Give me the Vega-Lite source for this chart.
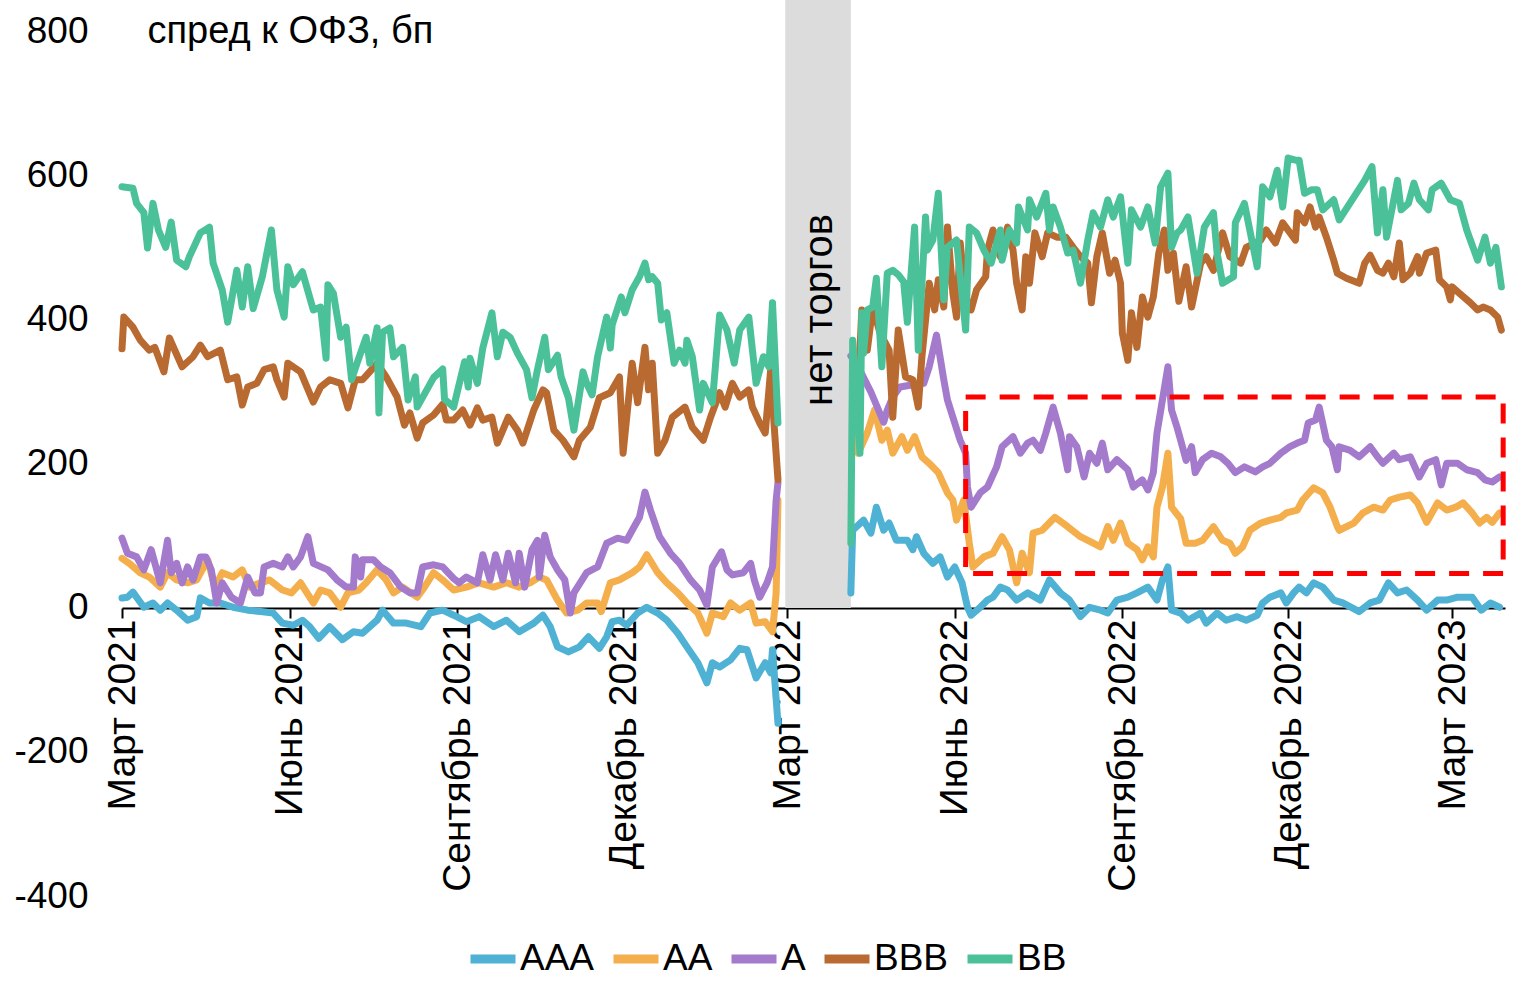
{
"$schema": "https://vega.github.io/schema/vega-lite/v6.json",
"width": 1383, "height": 896,
"autosize": {"type": "none"},
"padding": {"left": 122, "top": 0, "right": 20, "bottom": 100},
"background": "white",
"config": {"view": {"stroke": null}, "font": "Liberation Sans", "axis": {"grid": false}},
"datasets": {
"pre": [
{"s":"AAA","d":"2021-03-01","v":14},{"s":"AAA","d":"2021-03-04","v":15},{"s":"AAA","d":"2021-03-07","v":22},{"s":"AAA","d":"2021-03-13","v":1},{"s":"AAA","d":"2021-03-18","v":7},{"s":"AAA","d":"2021-03-22","v":-3},{"s":"AAA","d":"2021-03-26","v":7},{"s":"AAA","d":"2021-03-31","v":-3},{"s":"AAA","d":"2021-04-06","v":-17},{"s":"AAA","d":"2021-04-11","v":-12},{"s":"AAA","d":"2021-04-13","v":14},{"s":"AAA","d":"2021-04-18","v":7},{"s":"AAA","d":"2021-04-24","v":7},{"s":"AAA","d":"2021-05-01","v":1},{"s":"AAA","d":"2021-05-09","v":-3},{"s":"AAA","d":"2021-05-16","v":-5},{"s":"AAA","d":"2021-05-23","v":-7},{"s":"AAA","d":"2021-05-28","v":-21},{"s":"AAA","d":"2021-06-03","v":-24},{"s":"AAA","d":"2021-06-08","v":-17},{"s":"AAA","d":"2021-06-12","v":-26},{"s":"AAA","d":"2021-06-17","v":-42},{"s":"AAA","d":"2021-06-23","v":-26},{"s":"AAA","d":"2021-06-30","v":-44},{"s":"AAA","d":"2021-07-06","v":-33},{"s":"AAA","d":"2021-07-11","v":-35},{"s":"AAA","d":"2021-07-19","v":-17},{"s":"AAA","d":"2021-07-22","v":-3},{"s":"AAA","d":"2021-07-28","v":-21},{"s":"AAA","d":"2021-08-04","v":-21},{"s":"AAA","d":"2021-08-12","v":-26},{"s":"AAA","d":"2021-08-17","v":-7},{"s":"AAA","d":"2021-08-24","v":-3},{"s":"AAA","d":"2021-08-30","v":-10},{"s":"AAA","d":"2021-09-06","v":-19},{"s":"AAA","d":"2021-09-13","v":-12},{"s":"AAA","d":"2021-09-21","v":-26},{"s":"AAA","d":"2021-09-28","v":-17},{"s":"AAA","d":"2021-10-05","v":-33},{"s":"AAA","d":"2021-10-13","v":-21},{"s":"AAA","d":"2021-10-18","v":-10},{"s":"AAA","d":"2021-10-22","v":-26},{"s":"AAA","d":"2021-10-26","v":-54},{"s":"AAA","d":"2021-11-01","v":-61},{"s":"AAA","d":"2021-11-07","v":-54},{"s":"AAA","d":"2021-11-12","v":-40},{"s":"AAA","d":"2021-11-18","v":-56},{"s":"AAA","d":"2021-11-22","v":-40},{"s":"AAA","d":"2021-11-25","v":-19},{"s":"AAA","d":"2021-11-29","v":-17},{"s":"AAA","d":"2021-12-03","v":-24},{"s":"AAA","d":"2021-12-09","v":-7},{"s":"AAA","d":"2021-12-14","v":1},{"s":"AAA","d":"2021-12-20","v":-7},{"s":"AAA","d":"2021-12-25","v":-17},{"s":"AAA","d":"2021-12-31","v":-35},{"s":"AAA","d":"2022-01-05","v":-54},{"s":"AAA","d":"2022-01-11","v":-76},{"s":"AAA","d":"2022-01-16","v":-104},{"s":"AAA","d":"2022-01-19","v":-76},{"s":"AAA","d":"2022-01-23","v":-82},{"s":"AAA","d":"2022-01-29","v":-72},{"s":"AAA","d":"2022-02-03","v":-56},{"s":"AAA","d":"2022-02-07","v":-58},{"s":"AAA","d":"2022-02-12","v":-97},{"s":"AAA","d":"2022-02-17","v":-76},{"s":"AAA","d":"2022-02-20","v":-90},{"s":"AAA","d":"2022-02-21","v":-58},{"s":"AAA","d":"2022-02-24","v":-160},
{"s":"AA","d":"2021-03-01","v":69},{"s":"AA","d":"2021-03-05","v":62},{"s":"AA","d":"2021-03-11","v":49},{"s":"AA","d":"2021-03-16","v":43},{"s":"AA","d":"2021-03-22","v":29},{"s":"AA","d":"2021-03-26","v":49},{"s":"AA","d":"2021-03-31","v":39},{"s":"AA","d":"2021-04-06","v":35},{"s":"AA","d":"2021-04-11","v":39},{"s":"AA","d":"2021-04-17","v":67},{"s":"AA","d":"2021-04-21","v":29},{"s":"AA","d":"2021-04-25","v":49},{"s":"AA","d":"2021-05-01","v":43},{"s":"AA","d":"2021-05-06","v":53},{"s":"AA","d":"2021-05-10","v":29},{"s":"AA","d":"2021-05-16","v":35},{"s":"AA","d":"2021-05-21","v":39},{"s":"AA","d":"2021-05-28","v":25},{"s":"AA","d":"2021-06-02","v":21},{"s":"AA","d":"2021-06-07","v":35},{"s":"AA","d":"2021-06-14","v":7},{"s":"AA","d":"2021-06-18","v":25},{"s":"AA","d":"2021-06-23","v":21},{"s":"AA","d":"2021-06-29","v":1},{"s":"AA","d":"2021-07-03","v":21},{"s":"AA","d":"2021-07-09","v":25},{"s":"AA","d":"2021-07-13","v":35},{"s":"AA","d":"2021-07-19","v":53},{"s":"AA","d":"2021-07-24","v":39},{"s":"AA","d":"2021-07-28","v":21},{"s":"AA","d":"2021-08-02","v":29},{"s":"AA","d":"2021-08-10","v":15},{"s":"AA","d":"2021-08-14","v":29},{"s":"AA","d":"2021-08-19","v":49},{"s":"AA","d":"2021-08-24","v":39},{"s":"AA","d":"2021-08-30","v":25},{"s":"AA","d":"2021-09-06","v":29},{"s":"AA","d":"2021-09-13","v":35},{"s":"AA","d":"2021-09-21","v":29},{"s":"AA","d":"2021-09-28","v":35},{"s":"AA","d":"2021-10-05","v":29},{"s":"AA","d":"2021-10-11","v":35},{"s":"AA","d":"2021-10-16","v":43},{"s":"AA","d":"2021-10-20","v":39},{"s":"AA","d":"2021-10-26","v":11},{"s":"AA","d":"2021-10-31","v":-7},{"s":"AA","d":"2021-11-06","v":-3},{"s":"AA","d":"2021-11-11","v":7},{"s":"AA","d":"2021-11-17","v":7},{"s":"AA","d":"2021-11-19","v":-5},{"s":"AA","d":"2021-11-24","v":35},{"s":"AA","d":"2021-11-29","v":39},{"s":"AA","d":"2021-12-06","v":49},{"s":"AA","d":"2021-12-10","v":57},{"s":"AA","d":"2021-12-14","v":74},{"s":"AA","d":"2021-12-20","v":49},{"s":"AA","d":"2021-12-25","v":35},{"s":"AA","d":"2021-12-31","v":21},{"s":"AA","d":"2022-01-05","v":7},{"s":"AA","d":"2022-01-11","v":-7},{"s":"AA","d":"2022-01-16","v":-35},{"s":"AA","d":"2022-01-19","v":-7},{"s":"AA","d":"2022-01-25","v":-12},{"s":"AA","d":"2022-01-29","v":7},{"s":"AA","d":"2022-02-03","v":-3},{"s":"AA","d":"2022-02-09","v":7},{"s":"AA","d":"2022-02-12","v":-21},{"s":"AA","d":"2022-02-17","v":-19},{"s":"AA","d":"2022-02-21","v":-33},{"s":"AA","d":"2022-02-23","v":21},{"s":"AA","d":"2022-02-24","v":150},
{"s":"A","d":"2021-03-01","v":97},{"s":"A","d":"2021-03-04","v":76},{"s":"A","d":"2021-03-09","v":71},{"s":"A","d":"2021-03-13","v":53},{"s":"A","d":"2021-03-17","v":81},{"s":"A","d":"2021-03-22","v":35},{"s":"A","d":"2021-03-26","v":94},{"s":"A","d":"2021-03-28","v":49},{"s":"A","d":"2021-03-31","v":62},{"s":"A","d":"2021-04-03","v":35},{"s":"A","d":"2021-04-06","v":57},{"s":"A","d":"2021-04-09","v":39},{"s":"A","d":"2021-04-13","v":71},{"s":"A","d":"2021-04-16","v":71},{"s":"A","d":"2021-04-19","v":53},{"s":"A","d":"2021-04-22","v":7},{"s":"A","d":"2021-04-25","v":35},{"s":"A","d":"2021-04-30","v":15},{"s":"A","d":"2021-05-05","v":7},{"s":"A","d":"2021-05-09","v":43},{"s":"A","d":"2021-05-13","v":21},{"s":"A","d":"2021-05-16","v":21},{"s":"A","d":"2021-05-18","v":57},{"s":"A","d":"2021-05-23","v":62},{"s":"A","d":"2021-05-28","v":57},{"s":"A","d":"2021-05-31","v":71},{"s":"A","d":"2021-06-03","v":57},{"s":"A","d":"2021-06-07","v":71},{"s":"A","d":"2021-06-11","v":99},{"s":"A","d":"2021-06-14","v":62},{"s":"A","d":"2021-06-22","v":53},{"s":"A","d":"2021-06-27","v":39},{"s":"A","d":"2021-07-02","v":29},{"s":"A","d":"2021-07-06","v":29},{"s":"A","d":"2021-07-07","v":71},{"s":"A","d":"2021-07-10","v":43},{"s":"A","d":"2021-07-11","v":67},{"s":"A","d":"2021-07-17","v":67},{"s":"A","d":"2021-07-21","v":57},{"s":"A","d":"2021-07-26","v":49},{"s":"A","d":"2021-08-01","v":29},{"s":"A","d":"2021-08-06","v":21},{"s":"A","d":"2021-08-10","v":21},{"s":"A","d":"2021-08-13","v":57},{"s":"A","d":"2021-08-19","v":60},{"s":"A","d":"2021-08-24","v":57},{"s":"A","d":"2021-08-30","v":41},{"s":"A","d":"2021-09-02","v":35},{"s":"A","d":"2021-09-06","v":43},{"s":"A","d":"2021-09-12","v":35},{"s":"A","d":"2021-09-15","v":74},{"s":"A","d":"2021-09-19","v":39},{"s":"A","d":"2021-09-22","v":74},{"s":"A","d":"2021-09-26","v":39},{"s":"A","d":"2021-09-29","v":76},{"s":"A","d":"2021-10-03","v":35},{"s":"A","d":"2021-10-05","v":76},{"s":"A","d":"2021-10-08","v":29},{"s":"A","d":"2021-10-12","v":81},{"s":"A","d":"2021-10-15","v":94},{"s":"A","d":"2021-10-16","v":43},{"s":"A","d":"2021-10-19","v":101},{"s":"A","d":"2021-10-22","v":71},{"s":"A","d":"2021-10-26","v":53},{"s":"A","d":"2021-10-30","v":39},{"s":"A","d":"2021-11-02","v":-7},{"s":"A","d":"2021-11-04","v":21},{"s":"A","d":"2021-11-11","v":49},{"s":"A","d":"2021-11-17","v":57},{"s":"A","d":"2021-11-22","v":90},{"s":"A","d":"2021-11-28","v":97},{"s":"A","d":"2021-12-03","v":94},{"s":"A","d":"2021-12-06","v":108},{"s":"A","d":"2021-12-10","v":126},{"s":"A","d":"2021-12-13","v":161},{"s":"A","d":"2021-12-16","v":136},{"s":"A","d":"2021-12-21","v":99},{"s":"A","d":"2021-12-27","v":76},{"s":"A","d":"2022-01-01","v":62},{"s":"A","d":"2022-01-07","v":39},{"s":"A","d":"2022-01-12","v":25},{"s":"A","d":"2022-01-16","v":4},{"s":"A","d":"2022-01-19","v":57},{"s":"A","d":"2022-01-24","v":78},{"s":"A","d":"2022-01-27","v":53},{"s":"A","d":"2022-01-30","v":46},{"s":"A","d":"2022-02-05","v":49},{"s":"A","d":"2022-02-09","v":62},{"s":"A","d":"2022-02-11","v":39},{"s":"A","d":"2022-02-14","v":15},{"s":"A","d":"2022-02-18","v":35},{"s":"A","d":"2022-02-21","v":57},{"s":"A","d":"2022-02-23","v":150},{"s":"A","d":"2022-02-24","v":174},
{"s":"BBB","d":"2021-03-01","v":360},{"s":"BBB","d":"2021-03-02","v":404},{"s":"BBB","d":"2021-03-07","v":390},{"s":"BBB","d":"2021-03-11","v":372},{"s":"BBB","d":"2021-03-16","v":358},{"s":"BBB","d":"2021-03-19","v":362},{"s":"BBB","d":"2021-03-24","v":328},{"s":"BBB","d":"2021-03-27","v":375},{"s":"BBB","d":"2021-04-03","v":335},{"s":"BBB","d":"2021-04-09","v":349},{"s":"BBB","d":"2021-04-13","v":365},{"s":"BBB","d":"2021-04-17","v":349},{"s":"BBB","d":"2021-04-24","v":358},{"s":"BBB","d":"2021-04-28","v":317},{"s":"BBB","d":"2021-05-03","v":321},{"s":"BBB","d":"2021-05-06","v":282},{"s":"BBB","d":"2021-05-09","v":307},{"s":"BBB","d":"2021-05-14","v":312},{"s":"BBB","d":"2021-05-18","v":331},{"s":"BBB","d":"2021-05-23","v":335},{"s":"BBB","d":"2021-05-25","v":317},{"s":"BBB","d":"2021-05-29","v":293},{"s":"BBB","d":"2021-05-31","v":340},{"s":"BBB","d":"2021-06-07","v":328},{"s":"BBB","d":"2021-06-14","v":286},{"s":"BBB","d":"2021-06-18","v":307},{"s":"BBB","d":"2021-06-23","v":317},{"s":"BBB","d":"2021-06-29","v":312},{"s":"BBB","d":"2021-07-03","v":278},{"s":"BBB","d":"2021-07-07","v":317},{"s":"BBB","d":"2021-07-11","v":317},{"s":"BBB","d":"2021-07-16","v":331},{"s":"BBB","d":"2021-07-19","v":340},{"s":"BBB","d":"2021-07-24","v":321},{"s":"BBB","d":"2021-07-30","v":293},{"s":"BBB","d":"2021-08-03","v":254},{"s":"BBB","d":"2021-08-06","v":271},{"s":"BBB","d":"2021-08-10","v":236},{"s":"BBB","d":"2021-08-13","v":257},{"s":"BBB","d":"2021-08-19","v":268},{"s":"BBB","d":"2021-08-24","v":283},{"s":"BBB","d":"2021-08-26","v":261},{"s":"BBB","d":"2021-08-30","v":261},{"s":"BBB","d":"2021-09-04","v":275},{"s":"BBB","d":"2021-09-08","v":254},{"s":"BBB","d":"2021-09-12","v":278},{"s":"BBB","d":"2021-09-15","v":261},{"s":"BBB","d":"2021-09-20","v":265},{"s":"BBB","d":"2021-09-23","v":229},{"s":"BBB","d":"2021-09-29","v":265},{"s":"BBB","d":"2021-10-04","v":247},{"s":"BBB","d":"2021-10-07","v":229},{"s":"BBB","d":"2021-10-13","v":275},{"s":"BBB","d":"2021-10-18","v":303},{"s":"BBB","d":"2021-10-20","v":299},{"s":"BBB","d":"2021-10-24","v":247},{"s":"BBB","d":"2021-10-29","v":233},{"s":"BBB","d":"2021-11-04","v":210},{"s":"BBB","d":"2021-11-07","v":233},{"s":"BBB","d":"2021-11-13","v":251},{"s":"BBB","d":"2021-11-18","v":292},{"s":"BBB","d":"2021-11-24","v":299},{"s":"BBB","d":"2021-11-29","v":321},{"s":"BBB","d":"2021-12-01","v":215},{"s":"BBB","d":"2021-12-06","v":340},{"s":"BBB","d":"2021-12-09","v":285},{"s":"BBB","d":"2021-12-13","v":362},{"s":"BBB","d":"2021-12-15","v":303},{"s":"BBB","d":"2021-12-17","v":340},{"s":"BBB","d":"2021-12-20","v":215},{"s":"BBB","d":"2021-12-24","v":233},{"s":"BBB","d":"2021-12-28","v":265},{"s":"BBB","d":"2022-01-04","v":279},{"s":"BBB","d":"2022-01-08","v":251},{"s":"BBB","d":"2022-01-14","v":233},{"s":"BBB","d":"2022-01-18","v":265},{"s":"BBB","d":"2022-01-23","v":299},{"s":"BBB","d":"2022-01-26","v":279},{"s":"BBB","d":"2022-01-30","v":312},{"s":"BBB","d":"2022-02-03","v":293},{"s":"BBB","d":"2022-02-08","v":303},{"s":"BBB","d":"2022-02-10","v":279},{"s":"BBB","d":"2022-02-14","v":257},{"s":"BBB","d":"2022-02-17","v":243},{"s":"BBB","d":"2022-02-20","v":331},{"s":"BBB","d":"2022-02-22","v":250},{"s":"BBB","d":"2022-02-24","v":178},
{"s":"BB","d":"2021-03-01","v":585},{"s":"BB","d":"2021-03-07","v":583},{"s":"BB","d":"2021-03-09","v":562},{"s":"BB","d":"2021-03-13","v":549},{"s":"BB","d":"2021-03-15","v":500},{"s":"BB","d":"2021-03-18","v":562},{"s":"BB","d":"2021-03-21","v":525},{"s":"BB","d":"2021-03-25","v":501},{"s":"BB","d":"2021-03-28","v":536},{"s":"BB","d":"2021-03-31","v":483},{"s":"BB","d":"2021-04-05","v":474},{"s":"BB","d":"2021-04-07","v":488},{"s":"BB","d":"2021-04-13","v":521},{"s":"BB","d":"2021-04-18","v":529},{"s":"BB","d":"2021-04-20","v":479},{"s":"BB","d":"2021-04-25","v":442},{"s":"BB","d":"2021-04-28","v":397},{"s":"BB","d":"2021-05-03","v":469},{"s":"BB","d":"2021-05-06","v":418},{"s":"BB","d":"2021-05-09","v":474},{"s":"BB","d":"2021-05-12","v":416},{"s":"BB","d":"2021-05-17","v":460},{"s":"BB","d":"2021-05-22","v":525},{"s":"BB","d":"2021-05-25","v":442},{"s":"BB","d":"2021-05-29","v":404},{"s":"BB","d":"2021-05-31","v":474},{"s":"BB","d":"2021-06-03","v":449},{"s":"BB","d":"2021-06-08","v":467},{"s":"BB","d":"2021-06-14","v":414},{"s":"BB","d":"2021-06-18","v":418},{"s":"BB","d":"2021-06-21","v":347},{"s":"BB","d":"2021-06-22","v":449},{"s":"BB","d":"2021-06-25","v":437},{"s":"BB","d":"2021-06-29","v":376},{"s":"BB","d":"2021-07-02","v":390},{"s":"BB","d":"2021-07-05","v":317},{"s":"BB","d":"2021-07-08","v":340},{"s":"BB","d":"2021-07-13","v":376},{"s":"BB","d":"2021-07-15","v":340},{"s":"BB","d":"2021-07-19","v":389},{"s":"BB","d":"2021-07-20","v":271},{"s":"BB","d":"2021-07-22","v":383},{"s":"BB","d":"2021-07-26","v":389},{"s":"BB","d":"2021-07-28","v":349},{"s":"BB","d":"2021-08-02","v":362},{"s":"BB","d":"2021-08-05","v":289},{"s":"BB","d":"2021-08-09","v":321},{"s":"BB","d":"2021-08-10","v":279},{"s":"BB","d":"2021-08-19","v":320},{"s":"BB","d":"2021-08-24","v":332},{"s":"BB","d":"2021-08-25","v":290},{"s":"BB","d":"2021-08-30","v":279},{"s":"BB","d":"2021-09-05","v":342},{"s":"BB","d":"2021-09-07","v":307},{"s":"BB","d":"2021-09-08","v":347},{"s":"BB","d":"2021-09-12","v":312},{"s":"BB","d":"2021-09-15","v":361},{"s":"BB","d":"2021-09-20","v":410},{"s":"BB","d":"2021-09-23","v":349},{"s":"BB","d":"2021-09-26","v":383},{"s":"BB","d":"2021-09-30","v":376},{"s":"BB","d":"2021-10-04","v":354},{"s":"BB","d":"2021-10-09","v":331},{"s":"BB","d":"2021-10-12","v":292},{"s":"BB","d":"2021-10-15","v":331},{"s":"BB","d":"2021-10-19","v":376},{"s":"BB","d":"2021-10-21","v":331},{"s":"BB","d":"2021-10-26","v":351},{"s":"BB","d":"2021-10-28","v":321},{"s":"BB","d":"2021-11-01","v":292},{"s":"BB","d":"2021-11-04","v":247},{"s":"BB","d":"2021-11-09","v":328},{"s":"BB","d":"2021-11-11","v":312},{"s":"BB","d":"2021-11-14","v":296},{"s":"BB","d":"2021-11-17","v":349},{"s":"BB","d":"2021-11-22","v":404},{"s":"BB","d":"2021-11-24","v":361},{"s":"BB","d":"2021-11-25","v":393},{"s":"BB","d":"2021-11-30","v":432},{"s":"BB","d":"2021-12-02","v":410},{"s":"BB","d":"2021-12-06","v":442},{"s":"BB","d":"2021-12-10","v":460},{"s":"BB","d":"2021-12-13","v":479},{"s":"BB","d":"2021-12-15","v":456},{"s":"BB","d":"2021-12-17","v":460},{"s":"BB","d":"2021-12-20","v":451},{"s":"BB","d":"2021-12-22","v":400},{"s":"BB","d":"2021-12-25","v":410},{"s":"BB","d":"2021-12-29","v":340},{"s":"BB","d":"2022-01-01","v":358},{"s":"BB","d":"2022-01-04","v":340},{"s":"BB","d":"2022-01-05","v":372},{"s":"BB","d":"2022-01-08","v":349},{"s":"BB","d":"2022-01-12","v":275},{"s":"BB","d":"2022-01-14","v":312},{"s":"BB","d":"2022-01-19","v":285},{"s":"BB","d":"2022-01-23","v":407},{"s":"BB","d":"2022-01-27","v":386},{"s":"BB","d":"2022-01-31","v":340},{"s":"BB","d":"2022-02-03","v":386},{"s":"BB","d":"2022-02-08","v":404},{"s":"BB","d":"2022-02-12","v":312},{"s":"BB","d":"2022-02-16","v":349},{"s":"BB","d":"2022-02-19","v":335},{"s":"BB","d":"2022-02-21","v":424},{"s":"BB","d":"2022-02-24","v":257}
],
"post": [
{"s":"AAA","d":"2022-04-05","v":21},{"s":"AAA","d":"2022-04-06","v":108},{"s":"AAA","d":"2022-04-12","v":122},{"s":"AAA","d":"2022-04-16","v":104},{"s":"AAA","d":"2022-04-19","v":140},{"s":"AAA","d":"2022-04-23","v":108},{"s":"AAA","d":"2022-04-26","v":118},{"s":"AAA","d":"2022-04-30","v":94},{"s":"AAA","d":"2022-05-06","v":94},{"s":"AAA","d":"2022-05-09","v":81},{"s":"AAA","d":"2022-05-11","v":99},{"s":"AAA","d":"2022-05-15","v":76},{"s":"AAA","d":"2022-05-20","v":62},{"s":"AAA","d":"2022-05-24","v":71},{"s":"AAA","d":"2022-05-28","v":43},{"s":"AAA","d":"2022-06-01","v":57},{"s":"AAA","d":"2022-06-05","v":35},{"s":"AAA","d":"2022-06-08","v":1},{"s":"AAA","d":"2022-06-10","v":-10},{"s":"AAA","d":"2022-06-15","v":1},{"s":"AAA","d":"2022-06-19","v":11},{"s":"AAA","d":"2022-06-22","v":15},{"s":"AAA","d":"2022-06-26","v":29},{"s":"AAA","d":"2022-06-30","v":25},{"s":"AAA","d":"2022-07-05","v":11},{"s":"AAA","d":"2022-07-11","v":21},{"s":"AAA","d":"2022-07-18","v":11},{"s":"AAA","d":"2022-07-23","v":39},{"s":"AAA","d":"2022-07-29","v":21},{"s":"AAA","d":"2022-08-03","v":11},{"s":"AAA","d":"2022-08-09","v":-12},{"s":"AAA","d":"2022-08-14","v":1},{"s":"AAA","d":"2022-08-20","v":-3},{"s":"AAA","d":"2022-08-24","v":-7},{"s":"AAA","d":"2022-08-29","v":11},{"s":"AAA","d":"2022-09-04","v":15},{"s":"AAA","d":"2022-09-09","v":21},{"s":"AAA","d":"2022-09-15","v":29},{"s":"AAA","d":"2022-09-20","v":11},{"s":"AAA","d":"2022-09-23","v":39},{"s":"AAA","d":"2022-09-26","v":57},{"s":"AAA","d":"2022-09-28","v":-3},{"s":"AAA","d":"2022-10-03","v":-7},{"s":"AAA","d":"2022-10-07","v":-17},{"s":"AAA","d":"2022-10-14","v":-7},{"s":"AAA","d":"2022-10-17","v":-21},{"s":"AAA","d":"2022-10-23","v":-7},{"s":"AAA","d":"2022-10-28","v":-17},{"s":"AAA","d":"2022-11-03","v":-12},{"s":"AAA","d":"2022-11-08","v":-17},{"s":"AAA","d":"2022-11-14","v":-10},{"s":"AAA","d":"2022-11-17","v":7},{"s":"AAA","d":"2022-11-21","v":15},{"s":"AAA","d":"2022-11-27","v":21},{"s":"AAA","d":"2022-11-30","v":7},{"s":"AAA","d":"2022-12-04","v":21},{"s":"AAA","d":"2022-12-07","v":29},{"s":"AAA","d":"2022-12-11","v":21},{"s":"AAA","d":"2022-12-15","v":35},{"s":"AAA","d":"2022-12-20","v":29},{"s":"AAA","d":"2022-12-26","v":11},{"s":"AAA","d":"2022-12-31","v":7},{"s":"AAA","d":"2023-01-09","v":-5},{"s":"AAA","d":"2023-01-15","v":7},{"s":"AAA","d":"2023-01-20","v":11},{"s":"AAA","d":"2023-01-25","v":35},{"s":"AAA","d":"2023-01-30","v":21},{"s":"AAA","d":"2023-02-04","v":25},{"s":"AAA","d":"2023-02-10","v":11},{"s":"AAA","d":"2023-02-15","v":-3},{"s":"AAA","d":"2023-02-21","v":11},{"s":"AAA","d":"2023-02-26","v":11},{"s":"AAA","d":"2023-03-04","v":15},{"s":"AAA","d":"2023-03-09","v":15},{"s":"AAA","d":"2023-03-12","v":15},{"s":"AAA","d":"2023-03-17","v":-3},{"s":"AAA","d":"2023-03-22","v":7},{"s":"AAA","d":"2023-03-27","v":1},
{"s":"AA","d":"2022-04-06","v":240},{"s":"AA","d":"2022-04-09","v":215},{"s":"AA","d":"2022-04-14","v":243},{"s":"AA","d":"2022-04-18","v":275},{"s":"AA","d":"2022-04-22","v":233},{"s":"AA","d":"2022-04-25","v":247},{"s":"AA","d":"2022-04-28","v":215},{"s":"AA","d":"2022-05-03","v":238},{"s":"AA","d":"2022-05-06","v":219},{"s":"AA","d":"2022-05-10","v":238},{"s":"AA","d":"2022-05-14","v":210},{"s":"AA","d":"2022-05-18","v":201},{"s":"AA","d":"2022-05-23","v":188},{"s":"AA","d":"2022-05-28","v":160},{"s":"AA","d":"2022-05-31","v":150},{"s":"AA","d":"2022-06-02","v":122},{"s":"AA","d":"2022-06-06","v":150},{"s":"AA","d":"2022-06-09","v":90},{"s":"AA","d":"2022-06-11","v":57},{"s":"AA","d":"2022-06-17","v":71},{"s":"AA","d":"2022-06-22","v":76},{"s":"AA","d":"2022-06-27","v":99},{"s":"AA","d":"2022-07-01","v":81},{"s":"AA","d":"2022-07-05","v":35},{"s":"AA","d":"2022-07-08","v":76},{"s":"AA","d":"2022-07-12","v":49},{"s":"AA","d":"2022-07-14","v":104},{"s":"AA","d":"2022-07-19","v":108},{"s":"AA","d":"2022-07-26","v":126},{"s":"AA","d":"2022-08-02","v":113},{"s":"AA","d":"2022-08-09","v":99},{"s":"AA","d":"2022-08-16","v":90},{"s":"AA","d":"2022-08-20","v":85},{"s":"AA","d":"2022-08-24","v":113},{"s":"AA","d":"2022-08-27","v":94},{"s":"AA","d":"2022-08-31","v":118},{"s":"AA","d":"2022-09-04","v":90},{"s":"AA","d":"2022-09-09","v":81},{"s":"AA","d":"2022-09-12","v":67},{"s":"AA","d":"2022-09-15","v":85},{"s":"AA","d":"2022-09-18","v":71},{"s":"AA","d":"2022-09-20","v":140},{"s":"AA","d":"2022-09-23","v":168},{"s":"AA","d":"2022-09-26","v":215},{"s":"AA","d":"2022-09-28","v":140},{"s":"AA","d":"2022-10-03","v":124},{"s":"AA","d":"2022-10-06","v":90},{"s":"AA","d":"2022-10-11","v":90},{"s":"AA","d":"2022-10-15","v":94},{"s":"AA","d":"2022-10-21","v":113},{"s":"AA","d":"2022-10-26","v":94},{"s":"AA","d":"2022-10-30","v":90},{"s":"AA","d":"2022-11-02","v":76},{"s":"AA","d":"2022-11-06","v":85},{"s":"AA","d":"2022-11-10","v":108},{"s":"AA","d":"2022-11-16","v":118},{"s":"AA","d":"2022-11-21","v":122},{"s":"AA","d":"2022-11-27","v":126},{"s":"AA","d":"2022-11-30","v":132},{"s":"AA","d":"2022-12-06","v":136},{"s":"AA","d":"2022-12-09","v":150},{"s":"AA","d":"2022-12-15","v":167},{"s":"AA","d":"2022-12-20","v":160},{"s":"AA","d":"2022-12-24","v":140},{"s":"AA","d":"2022-12-28","v":113},{"s":"AA","d":"2022-12-29","v":108},{"s":"AA","d":"2023-01-06","v":118},{"s":"AA","d":"2023-01-11","v":132},{"s":"AA","d":"2023-01-17","v":140},{"s":"AA","d":"2023-01-22","v":136},{"s":"AA","d":"2023-01-26","v":150},{"s":"AA","d":"2023-01-31","v":154},{"s":"AA","d":"2023-02-06","v":157},{"s":"AA","d":"2023-02-10","v":146},{"s":"AA","d":"2023-02-15","v":119},{"s":"AA","d":"2023-02-21","v":146},{"s":"AA","d":"2023-02-26","v":136},{"s":"AA","d":"2023-03-03","v":140},{"s":"AA","d":"2023-03-07","v":146},{"s":"AA","d":"2023-03-12","v":132},{"s":"AA","d":"2023-03-16","v":118},{"s":"AA","d":"2023-03-20","v":126},{"s":"AA","d":"2023-03-23","v":119},{"s":"AA","d":"2023-03-27","v":132},
{"s":"A","d":"2022-04-05","v":350},{"s":"A","d":"2022-04-10","v":330},{"s":"A","d":"2022-04-16","v":300},{"s":"A","d":"2022-04-23","v":258},{"s":"A","d":"2022-04-25","v":275},{"s":"A","d":"2022-04-28","v":293},{"s":"A","d":"2022-05-02","v":307},{"s":"A","d":"2022-05-09","v":310},{"s":"A","d":"2022-05-15","v":312},{"s":"A","d":"2022-05-18","v":335},{"s":"A","d":"2022-05-22","v":379},{"s":"A","d":"2022-05-26","v":317},{"s":"A","d":"2022-05-28","v":289},{"s":"A","d":"2022-05-31","v":265},{"s":"A","d":"2022-06-04","v":233},{"s":"A","d":"2022-06-07","v":215},{"s":"A","d":"2022-06-08","v":168},{"s":"A","d":"2022-06-10","v":140},{"s":"A","d":"2022-06-15","v":160},{"s":"A","d":"2022-06-19","v":168},{"s":"A","d":"2022-06-24","v":196},{"s":"A","d":"2022-06-27","v":224},{"s":"A","d":"2022-07-03","v":238},{"s":"A","d":"2022-07-07","v":215},{"s":"A","d":"2022-07-11","v":229},{"s":"A","d":"2022-07-14","v":233},{"s":"A","d":"2022-07-18","v":219},{"s":"A","d":"2022-07-21","v":243},{"s":"A","d":"2022-07-25","v":279},{"s":"A","d":"2022-07-29","v":243},{"s":"A","d":"2022-08-02","v":192},{"s":"A","d":"2022-08-03","v":238},{"s":"A","d":"2022-08-07","v":224},{"s":"A","d":"2022-08-11","v":182},{"s":"A","d":"2022-08-14","v":215},{"s":"A","d":"2022-08-18","v":201},{"s":"A","d":"2022-08-21","v":229},{"s":"A","d":"2022-08-24","v":192},{"s":"A","d":"2022-08-29","v":206},{"s":"A","d":"2022-09-04","v":192},{"s":"A","d":"2022-09-07","v":168},{"s":"A","d":"2022-09-12","v":178},{"s":"A","d":"2022-09-15","v":164},{"s":"A","d":"2022-09-18","v":188},{"s":"A","d":"2022-09-20","v":243},{"s":"A","d":"2022-09-23","v":289},{"s":"A","d":"2022-09-26","v":335},{"s":"A","d":"2022-09-28","v":275},{"s":"A","d":"2022-10-01","v":251},{"s":"A","d":"2022-10-03","v":233},{"s":"A","d":"2022-10-06","v":205},{"s":"A","d":"2022-10-09","v":224},{"s":"A","d":"2022-10-11","v":188},{"s":"A","d":"2022-10-15","v":206},{"s":"A","d":"2022-10-20","v":215},{"s":"A","d":"2022-10-25","v":210},{"s":"A","d":"2022-10-29","v":201},{"s":"A","d":"2022-11-02","v":188},{"s":"A","d":"2022-11-07","v":196},{"s":"A","d":"2022-11-13","v":189},{"s":"A","d":"2022-11-17","v":196},{"s":"A","d":"2022-11-21","v":201},{"s":"A","d":"2022-11-27","v":215},{"s":"A","d":"2022-12-02","v":224},{"s":"A","d":"2022-12-06","v":229},{"s":"A","d":"2022-12-10","v":233},{"s":"A","d":"2022-12-12","v":257},{"s":"A","d":"2022-12-16","v":261},{"s":"A","d":"2022-12-18","v":279},{"s":"A","d":"2022-12-22","v":233},{"s":"A","d":"2022-12-25","v":224},{"s":"A","d":"2022-12-28","v":192},{"s":"A","d":"2022-12-29","v":224},{"s":"A","d":"2023-01-04","v":219},{"s":"A","d":"2023-01-09","v":210},{"s":"A","d":"2023-01-15","v":224},{"s":"A","d":"2023-01-19","v":210},{"s":"A","d":"2023-01-22","v":201},{"s":"A","d":"2023-01-28","v":215},{"s":"A","d":"2023-01-31","v":206},{"s":"A","d":"2023-02-06","v":210},{"s":"A","d":"2023-02-11","v":182},{"s":"A","d":"2023-02-15","v":201},{"s":"A","d":"2023-02-20","v":206},{"s":"A","d":"2023-02-23","v":171},{"s":"A","d":"2023-02-26","v":201},{"s":"A","d":"2023-03-04","v":201},{"s":"A","d":"2023-03-09","v":192},{"s":"A","d":"2023-03-15","v":188},{"s":"A","d":"2023-03-19","v":178},{"s":"A","d":"2023-03-23","v":175},{"s":"A","d":"2023-03-27","v":182},
{"s":"BBB","d":"2022-04-06","v":300},{"s":"BBB","d":"2022-04-09","v":303},{"s":"BBB","d":"2022-04-11","v":414},{"s":"BBB","d":"2022-04-14","v":358},{"s":"BBB","d":"2022-04-17","v":418},{"s":"BBB","d":"2022-04-21","v":382},{"s":"BBB","d":"2022-04-26","v":358},{"s":"BBB","d":"2022-04-28","v":265},{"s":"BBB","d":"2022-05-01","v":386},{"s":"BBB","d":"2022-05-05","v":321},{"s":"BBB","d":"2022-05-09","v":317},{"s":"BBB","d":"2022-05-12","v":279},{"s":"BBB","d":"2022-05-14","v":349},{"s":"BBB","d":"2022-05-18","v":451},{"s":"BBB","d":"2022-05-21","v":414},{"s":"BBB","d":"2022-05-23","v":456},{"s":"BBB","d":"2022-05-26","v":418},{"s":"BBB","d":"2022-05-28","v":529},{"s":"BBB","d":"2022-05-31","v":437},{"s":"BBB","d":"2022-06-02","v":404},{"s":"BBB","d":"2022-06-04","v":507},{"s":"BBB","d":"2022-06-07","v":432},{"s":"BBB","d":"2022-06-10","v":414},{"s":"BBB","d":"2022-06-13","v":442},{"s":"BBB","d":"2022-06-18","v":460},{"s":"BBB","d":"2022-06-19","v":497},{"s":"BBB","d":"2022-06-22","v":525},{"s":"BBB","d":"2022-06-26","v":488},{"s":"BBB","d":"2022-06-30","v":529},{"s":"BBB","d":"2022-07-03","v":497},{"s":"BBB","d":"2022-07-05","v":451},{"s":"BBB","d":"2022-07-08","v":414},{"s":"BBB","d":"2022-07-10","v":488},{"s":"BBB","d":"2022-07-12","v":451},{"s":"BBB","d":"2022-07-15","v":521},{"s":"BBB","d":"2022-07-19","v":488},{"s":"BBB","d":"2022-07-22","v":521},{"s":"BBB","d":"2022-07-27","v":515},{"s":"BBB","d":"2022-08-01","v":515},{"s":"BBB","d":"2022-08-05","v":501},{"s":"BBB","d":"2022-08-09","v":488},{"s":"BBB","d":"2022-08-13","v":479},{"s":"BBB","d":"2022-08-15","v":424},{"s":"BBB","d":"2022-08-18","v":488},{"s":"BBB","d":"2022-08-21","v":521},{"s":"BBB","d":"2022-08-25","v":465},{"s":"BBB","d":"2022-08-28","v":483},{"s":"BBB","d":"2022-08-31","v":451},{"s":"BBB","d":"2022-09-01","v":382},{"s":"BBB","d":"2022-09-04","v":344},{"s":"BBB","d":"2022-09-06","v":410},{"s":"BBB","d":"2022-09-09","v":362},{"s":"BBB","d":"2022-09-12","v":432},{"s":"BBB","d":"2022-09-15","v":404},{"s":"BBB","d":"2022-09-18","v":432},{"s":"BBB","d":"2022-09-21","v":493},{"s":"BBB","d":"2022-09-24","v":525},{"s":"BBB","d":"2022-09-26","v":469},{"s":"BBB","d":"2022-09-29","v":493},{"s":"BBB","d":"2022-10-02","v":426},{"s":"BBB","d":"2022-10-06","v":474},{"s":"BBB","d":"2022-10-09","v":418},{"s":"BBB","d":"2022-10-14","v":479},{"s":"BBB","d":"2022-10-17","v":488},{"s":"BBB","d":"2022-10-21","v":469},{"s":"BBB","d":"2022-10-26","v":521},{"s":"BBB","d":"2022-10-30","v":488},{"s":"BBB","d":"2022-11-05","v":479},{"s":"BBB","d":"2022-11-08","v":501},{"s":"BBB","d":"2022-11-16","v":511},{"s":"BBB","d":"2022-11-19","v":525},{"s":"BBB","d":"2022-11-24","v":507},{"s":"BBB","d":"2022-11-28","v":535},{"s":"BBB","d":"2022-12-05","v":511},{"s":"BBB","d":"2022-12-06","v":549},{"s":"BBB","d":"2022-12-10","v":535},{"s":"BBB","d":"2022-12-13","v":557},{"s":"BBB","d":"2022-12-16","v":529},{"s":"BBB","d":"2022-12-18","v":543},{"s":"BBB","d":"2022-12-22","v":515},{"s":"BBB","d":"2022-12-26","v":483},{"s":"BBB","d":"2022-12-28","v":465},{"s":"BBB","d":"2023-01-02","v":458},{"s":"BBB","d":"2023-01-09","v":451},{"s":"BBB","d":"2023-01-12","v":479},{"s":"BBB","d":"2023-01-15","v":490},{"s":"BBB","d":"2023-01-19","v":469},{"s":"BBB","d":"2023-01-22","v":465},{"s":"BBB","d":"2023-01-25","v":479},{"s":"BBB","d":"2023-01-28","v":460},{"s":"BBB","d":"2023-01-31","v":507},{"s":"BBB","d":"2023-02-02","v":456},{"s":"BBB","d":"2023-02-06","v":465},{"s":"BBB","d":"2023-02-10","v":488},{"s":"BBB","d":"2023-02-11","v":465},{"s":"BBB","d":"2023-02-15","v":493},{"s":"BBB","d":"2023-02-20","v":497},{"s":"BBB","d":"2023-02-22","v":456},{"s":"BBB","d":"2023-02-26","v":446},{"s":"BBB","d":"2023-02-28","v":428},{"s":"BBB","d":"2023-03-01","v":446},{"s":"BBB","d":"2023-03-05","v":437},{"s":"BBB","d":"2023-03-11","v":424},{"s":"BBB","d":"2023-03-15","v":414},{"s":"BBB","d":"2023-03-18","v":418},{"s":"BBB","d":"2023-03-22","v":414},{"s":"BBB","d":"2023-03-26","v":404},{"s":"BBB","d":"2023-03-28","v":386},
{"s":"BB","d":"2022-04-05","v":90},{"s":"BB","d":"2022-04-06","v":372},{"s":"BB","d":"2022-04-08","v":303},{"s":"BB","d":"2022-04-10","v":215},{"s":"BB","d":"2022-04-11","v":410},{"s":"BB","d":"2022-04-12","v":354},{"s":"BB","d":"2022-04-14","v":414},{"s":"BB","d":"2022-04-17","v":418},{"s":"BB","d":"2022-04-19","v":458},{"s":"BB","d":"2022-04-22","v":335},{"s":"BB","d":"2022-04-25","v":465},{"s":"BB","d":"2022-04-28","v":469},{"s":"BB","d":"2022-05-01","v":463},{"s":"BB","d":"2022-05-04","v":453},{"s":"BB","d":"2022-05-06","v":397},{"s":"BB","d":"2022-05-10","v":529},{"s":"BB","d":"2022-05-12","v":358},{"s":"BB","d":"2022-05-16","v":543},{"s":"BB","d":"2022-05-17","v":497},{"s":"BB","d":"2022-05-20","v":511},{"s":"BB","d":"2022-05-23","v":576},{"s":"BB","d":"2022-05-26","v":428},{"s":"BB","d":"2022-05-28","v":501},{"s":"BB","d":"2022-06-02","v":511},{"s":"BB","d":"2022-06-07","v":386},{"s":"BB","d":"2022-06-09","v":529},{"s":"BB","d":"2022-06-13","v":521},{"s":"BB","d":"2022-06-17","v":497},{"s":"BB","d":"2022-06-21","v":479},{"s":"BB","d":"2022-06-26","v":525},{"s":"BB","d":"2022-06-27","v":483},{"s":"BB","d":"2022-07-01","v":525},{"s":"BB","d":"2022-07-05","v":507},{"s":"BB","d":"2022-07-06","v":557},{"s":"BB","d":"2022-07-11","v":525},{"s":"BB","d":"2022-07-12","v":567},{"s":"BB","d":"2022-07-16","v":543},{"s":"BB","d":"2022-07-21","v":576},{"s":"BB","d":"2022-07-23","v":525},{"s":"BB","d":"2022-07-25","v":557},{"s":"BB","d":"2022-07-29","v":529},{"s":"BB","d":"2022-08-02","v":493},{"s":"BB","d":"2022-08-05","v":497},{"s":"BB","d":"2022-08-09","v":451},{"s":"BB","d":"2022-08-13","v":511},{"s":"BB","d":"2022-08-16","v":549},{"s":"BB","d":"2022-08-20","v":529},{"s":"BB","d":"2022-08-24","v":567},{"s":"BB","d":"2022-08-27","v":543},{"s":"BB","d":"2022-08-31","v":571},{"s":"BB","d":"2022-09-04","v":479},{"s":"BB","d":"2022-09-06","v":553},{"s":"BB","d":"2022-09-11","v":529},{"s":"BB","d":"2022-09-15","v":557},{"s":"BB","d":"2022-09-19","v":507},{"s":"BB","d":"2022-09-22","v":585},{"s":"BB","d":"2022-09-26","v":604},{"s":"BB","d":"2022-09-28","v":501},{"s":"BB","d":"2022-10-01","v":521},{"s":"BB","d":"2022-10-03","v":525},{"s":"BB","d":"2022-10-07","v":543},{"s":"BB","d":"2022-10-12","v":465},{"s":"BB","d":"2022-10-16","v":529},{"s":"BB","d":"2022-10-21","v":549},{"s":"BB","d":"2022-10-23","v":493},{"s":"BB","d":"2022-10-26","v":451},{"s":"BB","d":"2022-11-01","v":460},{"s":"BB","d":"2022-11-02","v":535},{"s":"BB","d":"2022-11-07","v":562},{"s":"BB","d":"2022-11-14","v":474},{"s":"BB","d":"2022-11-17","v":585},{"s":"BB","d":"2022-11-21","v":571},{"s":"BB","d":"2022-11-25","v":608},{"s":"BB","d":"2022-11-28","v":557},{"s":"BB","d":"2022-12-01","v":625},{"s":"BB","d":"2022-12-05","v":622},{"s":"BB","d":"2022-12-07","v":622},{"s":"BB","d":"2022-12-10","v":576},{"s":"BB","d":"2022-12-14","v":581},{"s":"BB","d":"2022-12-17","v":581},{"s":"BB","d":"2022-12-20","v":553},{"s":"BB","d":"2022-12-26","v":567},{"s":"BB","d":"2022-12-29","v":539},{"s":"BB","d":"2023-01-12","v":594},{"s":"BB","d":"2023-01-16","v":613},{"s":"BB","d":"2023-01-19","v":521},{"s":"BB","d":"2023-01-22","v":581},{"s":"BB","d":"2023-01-24","v":515},{"s":"BB","d":"2023-01-30","v":594},{"s":"BB","d":"2023-02-01","v":553},{"s":"BB","d":"2023-02-05","v":562},{"s":"BB","d":"2023-02-08","v":590},{"s":"BB","d":"2023-02-11","v":567},{"s":"BB","d":"2023-02-16","v":553},{"s":"BB","d":"2023-02-18","v":581},{"s":"BB","d":"2023-02-23","v":590},{"s":"BB","d":"2023-02-28","v":567},{"s":"BB","d":"2023-03-05","v":562},{"s":"BB","d":"2023-03-09","v":525},{"s":"BB","d":"2023-03-15","v":483},{"s":"BB","d":"2023-03-19","v":515},{"s":"BB","d":"2023-03-22","v":479},{"s":"BB","d":"2023-03-25","v":501},{"s":"BB","d":"2023-03-28","v":446}
]
},
"layer": [
{
"data": {"values": [{"a": "2022-02-28", "b": "2022-04-05"}]},
"mark": {"type": "rect", "fill": "#dcdcdc", "strokeWidth": 0},
"encoding": {
"x": {"field": "a", "type": "temporal", "scale": {"type": "utc", "domain": [{"year": 2021, "month": 3, "date": 1, "utc": true}, {"year": 2023, "month": 3, "date": 30, "utc": true}]}},
"x2": {"field": "b"},
"y": {"datum": 0, "type": "quantitative", "scale": {"domain": [-400, 844.44], "nice": false, "zero": false}},
"y2": {"datum": 844.44}
}
},
{
"data": {"values": [{}]},
"mark": {"type": "text", "text": "нет торгов", "angle": 270, "fontSize": 40, "font": "Liberation Sans", "color": "black", "align": "center", "baseline": "middle"},
"encoding": {
"x": {"datum": {"year": 2022, "month": 3, "date": 19, "utc": true}, "type": "temporal"},
"y": {"datum": 414, "type": "quantitative"}
}
},
{
"data": {"values": [{}]},
"mark": {"type": "text", "text": "спред к ОФЗ, бп", "fontSize": 38, "font": "Liberation Sans", "color": "black", "align": "left", "baseline": "middle"},
"encoding": {
"x": {"datum": {"year": 2021, "month": 3, "date": 15, "utc": true}, "type": "temporal"},
"y": {"datum": 800, "type": "quantitative"}
}
},
{
"data": {"name": "pre"},
"mark": {"type": "line", "strokeWidth": 7, "strokeJoin": "round", "strokeCap": "round"},
"encoding": {
"x": {"field": "d", "type": "temporal",
"scale": {"type": "utc", "domain": [{"year": 2021, "month": 3, "date": 1, "utc": true}, {"year": 2023, "month": 3, "date": 30, "utc": true}]},
"axis": {"title": null, "values": [{"year": 2021, "month": 3, "date": 1, "utc": true}, {"year": 2021, "month": 6, "date": 1, "utc": true}, {"year": 2021, "month": 9, "date": 1, "utc": true}, {"year": 2021, "month": 12, "date": 1, "utc": true}, {"year": 2022, "month": 3, "date": 1, "utc": true}, {"year": 2022, "month": 6, "date": 1, "utc": true}, {"year": 2022, "month": 9, "date": 1, "utc": true}, {"year": 2022, "month": 12, "date": 1, "utc": true}, {"year": 2023, "month": 3, "date": 1, "utc": true}],
"labelExpr": "['Январь','Февраль','Март','Апрель','Май','Июнь','Июль','Август','Сентябрь','Октябрь','Ноябрь','Декабрь'][utcmonth(datum.value)] + ' ' + utcyear(datum.value)",
"labelAngle": 270, "labelAlign": "right", "labelBaseline": "middle", "labelFontSize": 39, "labelFont": "Liberation Sans", "labelColor": "black", "labelPadding": 1, "labelOverlap": false, "labelBound": false, "labelFlush": false, "labelLimit": 0,
"tickSize": 10, "tickColor": "black", "tickWidth": 2, "domainColor": "black", "domainWidth": 2, "offset": -288, "grid": false}},
"y": {"field": "v", "type": "quantitative",
"scale": {"domain": [-400, 844.44], "nice": false, "zero": false},
"axis": {"title": null, "values": [-400, -200, 0, 200, 400, 600, 800], "labelExpr": "'' + datum.value", "domain": false, "ticks": false, "tickSize": 0, "labelFontSize": 37, "labelFont": "Liberation Sans", "labelColor": "black", "labelPadding": 34, "grid": false}},
"color": {"field": "s", "type": "nominal",
"scale": {"domain": ["AAA", "AA", "A", "BBB", "BB"], "range": ["#4fb2d4", "#f4ae4c", "#a47bcc", "#b96a31", "#4bc19a"]},
"legend": {"orient": "none", "legendX": 344, "legendY": 932, "direction": "horizontal", "title": null, "symbolType": "stroke", "symbolStrokeWidth": 9, "symbolSize": 2025, "labelFontSize": 37, "labelFont": "Liberation Sans", "labelColor": "black", "labelOffset": 0, "columnPadding": 0, "padding": 0, "symbolOpacity": 1}}
}
},
{
"data": {"name": "post"},
"mark": {"type": "line", "strokeWidth": 7, "strokeJoin": "round", "strokeCap": "round"},
"encoding": {
"x": {"field": "d", "type": "temporal"},
"y": {"field": "v", "type": "quantitative"},
"color": {"field": "s", "type": "nominal"}
}
},
{
"data": {"values": [{"a": "2022-06-07", "b": "2023-03-29", "lo": 48, "hi": 293}]},
"mark": {"type": "rect", "filled": false, "stroke": "#ff0000", "strokeWidth": 5, "strokeDash": [20, 14]},
"encoding": {
"x": {"field": "a", "type": "temporal"},
"x2": {"field": "b"},
"y": {"field": "lo", "type": "quantitative"},
"y2": {"field": "hi"}
}
}
]
}
